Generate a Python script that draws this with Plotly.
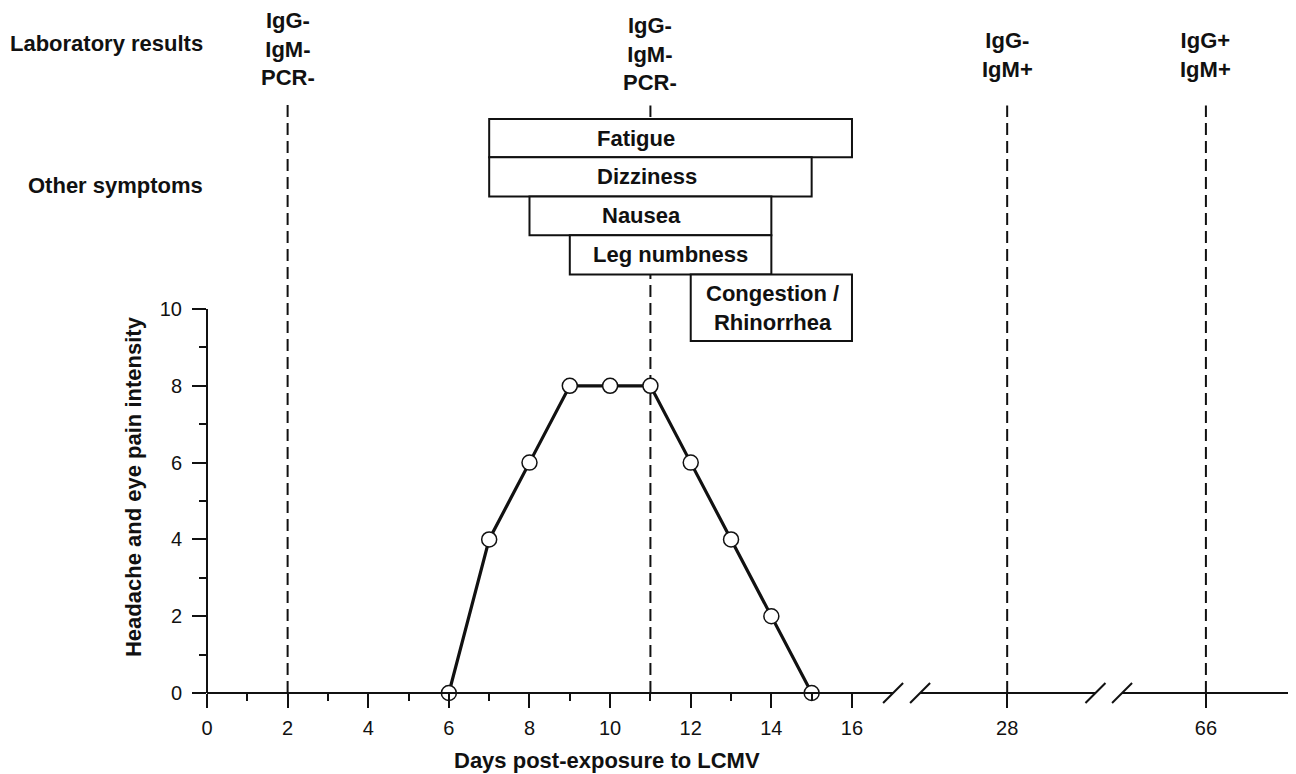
import plotly.graph_objects as go

# ---------------- data ----------------
days = [6, 7, 8, 9, 10, 11, 12, 13, 14, 15]
intensity = [0, 4, 6, 8, 8, 8, 6, 4, 2, 0]

lab_days = [2, 11, 28, 66]
lab_results = ["IgG-<br>IgM-<br>PCR-", "IgG-<br>IgM-<br>PCR-", "IgG-<br>IgM+", "IgG+<br>IgM+"]

symptoms = ["Fatigue", "Dizziness", "Nausea", "Leg numbness", "Congestion /<br>Rhinorrhea"]
sym_start = [7, 7, 8, 9, 12]
sym_end = [16, 15, 14, 14, 16]

x_tick_days = [0, 2, 4, 6, 8, 10, 12, 14, 16, 28, 66]
x_minor_days = [1, 3, 5, 7, 9, 11, 13, 15]
y_tick_vals = [0, 2, 4, 6, 8, 10]
y_minor_vals = [1, 3, 5, 7, 9]

# ---------------- broken-axis scale ----------------
BREAK_POS = {28: 19.85, 66: 24.78}   # where the far days sit on the broken axis
BREAKS = [(17.02, 17.69), (22.04, 22.70)]
X_MAX = 27.015
Y_MAX = 17.84
PLOT_H = 685.0   # plot-area height in px
PX_X = 40.31     # px per day
PX_Y = 38.4      # px per intensity unit


def xpos(d):
    return d if d <= 16 else BREAK_POS[d]


def py(page_y):
    # page pixel -> paper fraction (axis y=0 sits at page pixel 693)
    return (693 - page_y) / PLOT_H


# layout positions (styling, not data)
row_top = [14.95, 13.95, 12.93, 11.92, 10.90]
row_bot = [13.95, 12.93, 11.92, 10.90, 9.17]
label_x = [10.64, 10.92, 10.79, 11.51, 14.02]
lab_label_y = [16.78, 16.64, 16.61, 16.61]
lab_line_top = [15.45, 15.30, 15.30, 15.30]

FONT = "Liberation Sans, Arial, sans-serif"
BLACK = "#111111"

fig = go.Figure()

fig.add_trace(go.Scatter(
    x=[xpos(d) for d in days], y=intensity,
    mode="lines+markers",
    line=dict(color=BLACK, width=3.2),
    marker=dict(size=15, color="white", line=dict(color=BLACK, width=1.5)),
    cliponaxis=False, showlegend=False, hoverinfo="x+y",
))

shapes = []
# vertical dashed lab lines
for d, top in zip(lab_days, lab_line_top):
    shapes.append(dict(type="line", xref="x", yref="y", x0=xpos(d), x1=xpos(d), y0=0, y1=top,
                       line=dict(color=BLACK, width=2, dash="12px,6px"), layer="below"))

# symptom boxes
for s, e, t, b in zip(sym_start, sym_end, row_top, row_bot):
    shapes.append(dict(type="rect", xref="x", yref="y", x0=s, x1=e, y0=b, y1=t,
                       fillcolor="white", line=dict(color=BLACK, width=2), layer="above"))

# y axis line (0..10)
shapes.append(dict(type="line", xref="paper", yref="y", x0=0, x1=0, y0=0, y1=10,
                   line=dict(color=BLACK, width=2)))

# x axis line segments with breaks
segs = [(0, BREAKS[0][0]), (BREAKS[0][1], BREAKS[1][0]), (BREAKS[1][1], X_MAX)]
for a, b in segs:
    shapes.append(dict(type="line", xref="x", yref="paper", x0=a, x1=b, y0=0, y1=0,
                       line=dict(color=BLACK, width=2)))
dx = 10 / PX_X
dy = 10 / PLOT_H
for pair in BREAKS:
    for c in pair:
        shapes.append(dict(type="line", xref="x", yref="paper", x0=c - dx, x1=c + dx, y0=-dy, y1=dy,
                           line=dict(color=BLACK, width=2)))

annotations = []
for name, lx, t, b in zip(symptoms, label_x, row_top, row_bot):
    annotations.append(dict(x=lx, y=(t + b) / 2, xref="x", yref="y", text="<b>%s</b>" % name,
                            showarrow=False, font=dict(size=22, color=BLACK, family=FONT),
                            xanchor="center", yanchor="middle"))
for d, txt, ly in zip(lab_days, lab_results, lab_label_y):
    annotations.append(dict(x=xpos(d), y=ly, xref="x", yref="y", text="<b>%s</b>" % txt,
                            showarrow=False, font=dict(size=22, color=BLACK, family=FONT),
                            xanchor="center", yanchor="middle"))

annotations.append(dict(x=0, y=py(43), xref="paper", yref="paper", xshift=-2,
                        text="<b>Laboratory results</b>", showarrow=False,
                        font=dict(size=22, color=BLACK, family=FONT), xanchor="right", yanchor="middle"))
annotations.append(dict(x=0, y=py(185), xref="paper", yref="paper", xshift=-2,
                        text="<b>Other symptoms</b>", showarrow=False,
                        font=dict(size=22, color=BLACK, family=FONT), xanchor="right", yanchor="middle"))
annotations.append(dict(x=9.92, y=py(760), xref="x", yref="paper",
                        text="<b>Days post-exposure to LCMV</b>", showarrow=False,
                        font=dict(size=22, color=BLACK, family=FONT), xanchor="center", yanchor="middle"))
annotations.append(dict(x=(133 - 207) / 1089, y=(693 - 487) / PX_Y, xref="paper", yref="y",
                        text="<b>Headache and eye pain intensity</b>", textangle=-90, showarrow=False,
                        font=dict(size=22, color=BLACK, family=FONT), xanchor="center", yanchor="middle"))

fig.update_layout(
    width=1288, height=766,
    margin=dict(l=199, r=0, t=0, b=81),
    plot_bgcolor="white", paper_bgcolor="white",
    shapes=shapes, annotations=annotations,
    font=dict(family=FONT, color=BLACK, size=20),
    xaxis=dict(
        range=[0, X_MAX], showgrid=False, zeroline=False, showline=False,
        tickvals=[xpos(d) for d in x_tick_days], ticktext=[str(d) for d in x_tick_days],
        ticks="outside", ticklen=14, tickwidth=2, tickcolor=BLACK,
        ticklabelstandoff=3,
        tickfont=dict(size=20, color=BLACK, family=FONT),
        minor=dict(tickvals=x_minor_days, ticks="outside", ticklen=7, tickwidth=2, tickcolor=BLACK, showgrid=False),
    ),
    yaxis=dict(
        range=[0, Y_MAX], showgrid=False, zeroline=False, showline=False,
        tickvals=y_tick_vals, ticktext=[str(v) for v in y_tick_vals],
        ticks="outside", ticklen=14, tickwidth=2, tickcolor=BLACK,
        ticklabelstandoff=6,
        tickfont=dict(size=20, color=BLACK, family=FONT),
        minor=dict(tickvals=y_minor_vals, ticks="outside", ticklen=7, tickwidth=2, tickcolor=BLACK, showgrid=False),
    ),
)

fig.write_html("out.html")
